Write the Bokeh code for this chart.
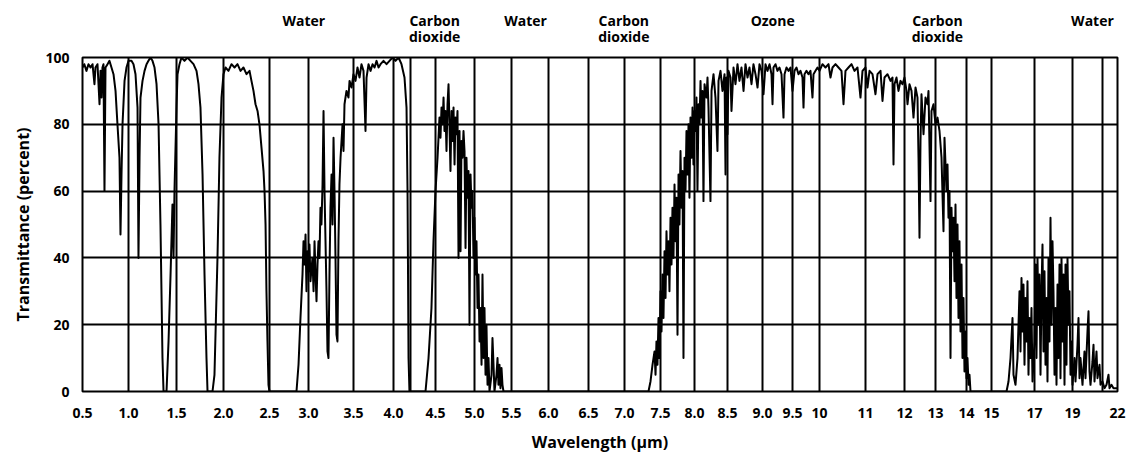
import numpy as np
from bokeh.plotting import figure
from bokeh.layouts import column
from bokeh.models import Range1d, FixedTicker, ColumnDataSource
from bokeh.core.properties import value
from bokeh.embed import file_html
from bokeh.resources import INLINE

# ---------------- data ----------------
tick_um = [0.5, 1.0, 1.5, 2.0, 2.5, 3.0, 3.5, 4.0, 4.5, 5.0, 5.5, 6.0, 6.5, 7.0,
           7.5, 8.0, 8.5, 9.0, 9.5, 10, 11, 12, 13, 14, 15, 17, 19, 22]
tick_labels = ["0.5", "1.0", "1.5", "2.0", "2.5", "3.0", "3.5", "4.0", "4.5", "5.0",
               "5.5", "6.0", "6.5", "7.0", "7.5", "8.0", "8.5", "9.0", "9.5", "10",
               "11", "12", "13", "14", "15", "17", "19", "22"]
extra_grid_um = [4.2, 21]
y_ticks = [0, 20, 40, 60, 80, 100]

band_names = ["Water", "Carbon\ndioxide", "Water", "Carbon\ndioxide", "Ozone",
              "Carbon\ndioxide", "Water"]
band_um = [2.94, 4.49, 5.69, 6.99, 9.17, 13.06, 20.33]

wavelength_um = [
    0.50, 0.52, 0.543, 0.565, 0.587, 0.609, 0.63, 0.641, 0.663, 0.685, 0.696, 0.707, 0.717,
    0.728, 0.739, 0.75, 0.772, 0.793, 0.815, 0.837, 0.859, 0.88, 0.902, 0.913, 0.924, 0.935,
    0.957, 0.978, 1.0, 1.031, 1.052, 1.073, 1.094, 1.104, 1.115, 1.125, 1.146, 1.167, 1.188,
    1.208, 1.229, 1.25, 1.271, 1.292, 1.313, 1.333, 1.354, 1.365, 1.396, 1.417, 1.438, 1.458,
    1.469, 1.479, 1.5, 1.511, 1.532, 1.553, 1.585, 1.617, 1.649, 1.681, 1.713, 1.734, 1.755,
    1.777, 1.798, 1.819, 1.83, 1.883, 1.904, 1.936, 1.957, 1.979, 2.0, 2.022, 2.054, 2.087,
    2.12, 2.152, 2.185, 2.217, 2.25, 2.283, 2.304, 2.326, 2.348, 2.37, 2.391, 2.413, 2.435,
    2.446, 2.457, 2.467, 2.478, 2.489, 2.5,
    2.846, 2.872, 2.897, 2.923, 2.936, 2.949, 2.962, 2.974, 2.987, 3.0, 3.011, 3.022, 3.044,
    3.056, 3.067, 3.078, 3.089, 3.1, 3.111, 3.122, 3.133, 3.144, 3.156, 3.167, 3.178, 3.189,
    3.2, 3.211, 3.222, 3.233, 3.244, 3.256, 3.267, 3.278, 3.289, 3.3, 3.311, 3.322, 3.333,
    3.344, 3.356, 3.378, 3.389, 3.4, 3.422, 3.444, 3.456, 3.478, 3.5, 3.525, 3.55, 3.575,
    3.6, 3.625, 3.65, 3.663, 3.688, 3.713, 3.738, 3.763, 3.788, 3.813, 3.838, 3.875, 3.913,
    3.95, 3.988, 4.024, 4.06, 4.095, 4.131, 4.155, 4.167, 4.179, 4.19,
    4.381, 4.417, 4.452, 4.476, 4.5, 4.526, 4.551, 4.564, 4.577, 4.59, 4.603, 4.615, 4.628,
    4.641, 4.654, 4.667, 4.679, 4.692, 4.705, 4.718, 4.731, 4.744, 4.756, 4.769, 4.782,
    4.795, 4.808, 4.821, 4.833, 4.846, 4.859, 4.872, 4.885, 4.897, 4.91, 4.923, 4.936, 4.949,
    4.962, 4.974, 4.987, 5.0, 5.014, 5.027, 5.041, 5.054, 5.068, 5.081, 5.095, 5.108, 5.122,
    5.135, 5.149, 5.162, 5.176, 5.189, 5.203, 5.23, 5.243, 5.257, 5.27, 5.297, 5.311, 5.324,
    5.338, 5.351, 5.365, 5.378, 5.392,
    7.333, 7.361, 7.389, 7.417, 7.431, 7.444, 7.458, 7.472, 7.486, 7.5, 7.515, 7.529, 7.544,
    7.559, 7.574, 7.588, 7.603, 7.618, 7.632, 7.647, 7.662, 7.676, 7.691, 7.706, 7.721,
    7.735, 7.75, 7.765, 7.779, 7.794, 7.809, 7.824, 7.838, 7.853, 7.868, 7.882, 7.897, 7.912,
    7.926, 7.941, 7.956, 7.971, 7.985, 8.0, 8.015, 8.03, 8.045, 8.061, 8.076, 8.091, 8.106,
    8.121, 8.136, 8.152, 8.182, 8.197, 8.212, 8.242, 8.258, 8.288, 8.318, 8.348, 8.364, 8.394,
    8.424, 8.455, 8.47, 8.485, 8.5, 8.514, 8.543, 8.557, 8.586, 8.614, 8.643, 8.671, 8.7,
    8.729, 8.757, 8.786, 8.814, 8.843, 8.871, 8.9, 8.929, 8.957, 8.986, 9.017, 9.05, 9.083,
    9.117, 9.15, 9.167, 9.183, 9.217, 9.25, 9.283, 9.317, 9.35, 9.367, 9.4, 9.433, 9.467,
    9.5, 9.537, 9.574, 9.611, 9.648, 9.685, 9.704, 9.722, 9.759, 9.796, 9.833, 9.87, 9.889,
    9.926, 9.963, 10.0, 10.065, 10.13, 10.196, 10.239, 10.283, 10.348, 10.413, 10.478,
    10.522, 10.565, 10.63, 10.696, 10.761, 10.826, 10.891, 10.935, 11.0, 11.051, 11.103,
    11.179, 11.256, 11.308, 11.385, 11.436, 11.487, 11.564, 11.641, 11.692, 11.718, 11.744,
    11.795, 11.846, 11.897, 11.949, 12.0, 12.065, 12.097, 12.161, 12.226, 12.29, 12.355,
    12.419, 12.452, 12.484, 12.516, 12.548, 12.613, 12.677, 12.742, 12.774, 12.839, 12.871,
    12.935, 13.0, 13.065, 13.129, 13.194, 13.258, 13.29, 13.355, 13.387, 13.419, 13.452,
    13.484, 13.516, 13.548, 13.581, 13.613, 13.645, 13.677, 13.71, 13.742, 13.774, 13.806,
    13.839, 13.871, 13.903, 13.935, 13.968, 14.0, 14.04, 14.08, 14.12, 14.16,
    15.698, 15.791, 15.884, 15.977, 16.023, 16.116, 16.209, 16.302, 16.349, 16.395, 16.442,
    16.488, 16.535, 16.581, 16.628, 16.674, 16.721, 16.767, 16.814, 16.86, 16.907, 17.0,
    17.053, 17.105, 17.158, 17.211, 17.263, 17.316, 17.368, 17.421, 17.474, 17.526, 17.579,
    17.632, 17.684, 17.737, 17.789, 17.842, 17.895, 17.947, 18.0, 18.053, 18.105, 18.158,
    18.211, 18.263, 18.316, 18.368, 18.421, 18.474, 18.526, 18.579, 18.632, 18.684, 18.737,
    18.789, 18.842, 18.895, 18.947, 19.0, 19.133, 19.2, 19.333, 19.4, 19.467, 19.533, 19.667,
    19.8, 19.867, 20.0, 20.067, 20.133, 20.2, 20.333, 20.4, 20.467, 20.6, 20.667, 20.8,
    20.867, 21.0, 21.133, 21.267, 21.4, 21.467, 21.6, 21.733, 22.0,
]

transmittance = [
    97, 98, 96, 98, 97, 98, 92, 97, 98, 86, 96, 88, 97,
    98, 60, 97, 98, 99, 97, 95, 90, 80, 70, 47, 65, 80,
    93, 97, 99, 99, 98, 95, 85, 40, 70, 88, 93, 96, 98,
    99, 100, 99, 97, 92, 80, 50, 10, 0, 0, 15, 35, 56,
    40, 60, 85, 95, 98, 100, 99, 100, 99, 98, 96, 92, 85,
    65, 35, 10, 0, 0, 5, 40, 70, 88, 95, 97, 96, 98,
    97, 98, 96, 97, 95, 96, 93, 90, 86, 84, 80, 73, 66,
    60, 50, 30, 15, 2, 0,
    0, 8, 22, 35, 45, 38, 47, 30, 42, 36, 44, 33, 40,
    30, 45, 35, 27, 38, 45, 40, 55, 50, 62, 84, 60, 45,
    30, 12, 10, 35, 55, 65, 50, 76, 60, 40, 17, 15, 45,
    62, 70, 80, 72, 86, 90, 88, 93, 91, 95, 93, 97, 94,
    98, 96, 78, 94, 98, 96, 98, 97, 99, 97, 98, 99, 98,
    99, 100, 99, 100, 98, 94, 85, 60, 10, 0,
    0, 10, 25, 45, 60, 70, 82, 76, 85, 80, 88, 78, 84,
    72, 86, 92, 80, 66, 84, 75, 85, 68, 82, 77, 84,
    40, 78, 42, 75, 70, 78, 72, 43, 70, 58, 66, 20, 65,
    55, 60, 40, 52, 35, 45, 25, 35, 15, 25, 8, 35, 10,
    25, 5, 20, 2, 10, 0, 5, 16, 8, 0, 5, 10, 2,
    8, 1, 7, 2, 0,
    0, 3, 8, 12, 5, 15, 8, 22, 10, 30, 18, 35, 22,
    42, 28, 48, 35, 45, 30, 52, 38, 55, 40, 62, 45,
    58, 17, 65, 50, 72, 55, 66, 10, 70, 60, 78, 65, 80,
    58, 82, 70, 85, 68, 84, 78, 88, 60, 86, 80, 93, 82,
    90, 57, 92, 88, 94, 85, 57, 90, 95, 88, 72, 93, 96,
    90, 95, 65, 94, 77, 96, 94, 84, 97, 92, 98, 93, 97,
    90, 98, 94, 97, 92, 98, 95, 91, 98, 96, 89, 98, 96,
    98, 95, 86, 97, 98, 96, 97, 95, 82, 95, 97, 96, 97,
    90, 96, 97, 95, 96, 94, 85, 95, 96, 95, 96, 88, 95,
    96, 97, 96, 98, 97, 98, 94, 97, 98, 97, 96,
    86, 96, 97, 98, 96, 97, 88, 96, 97, 91, 96,
    95, 89, 95, 96, 87, 94, 95, 93, 94, 68, 92,
    94, 90, 93, 92, 94, 90, 86, 92, 90, 82, 91,
    88, 70, 46, 75, 89, 77, 88, 86, 90, 57, 84,
    86, 80, 82, 78, 70, 48, 76, 60, 68, 52, 60,
    10, 55, 42, 52, 33, 56, 28, 50, 22, 45, 18,
    38, 10, 28, 6, 18, 4, 10, 2, 5, 0,
    0, 3, 10, 22, 5, 2, 10, 30, 12, 34, 18,
    32, 8, 28, 15, 33, 5, 22, 10, 25, 3, 15,
    38, 10, 40, 20, 35, 5, 30, 44, 12, 36, 8,
    28, 3, 40, 15, 52, 20, 45, 30, 5, 25, 2,
    32, 10, 38, 4, 40, 15, 35, 2, 38, 8, 40,
    20, 30, 5, 15, 2, 10, 3, 14, 22, 4, 10, 2,
    12, 4, 18, 24, 6, 2, 9, 14, 3, 12, 4, 8,
    2, 3, 1, 2, 5, 1, 2, 1, 1,
]

# ---------------- layout ----------------
# The printed wavelength axis is not uniform: offset (px) of each labelled tick
AXIS_SLOT = [0, 46, 94, 141, 187, 226, 271, 311, 353, 392, 429, 466, 506, 542,
             578, 612, 645, 680, 710, 737, 783, 822, 853, 884, 909, 952, 990, 1035]
FONT = "Open Sans"
W = 1131
HEAD_H = 47
MAIN_H = 409
BORDER_L, BORDER_R = 82, 14


def axis_pos(um):
    return np.interp(np.asarray(um, dtype=float), tick_um, AXIS_SLOT)


xr = Range1d(0, AXIS_SLOT[-1])

# ---- header strip with the absorber names ----
head = figure(width=W, height=HEAD_H, output_backend="svg", toolbar_location=None,
              x_range=xr, y_range=Range1d(0, HEAD_H),
              x_axis_location=None, y_axis_location=None,
              min_border_left=BORDER_L, min_border_right=BORDER_R,
              min_border_top=0, min_border_bottom=0)
head.grid.visible = False
head.outline_line_color = None
hx, hy, ht = [], [], []
for name, um in zip(band_names, band_um):
    for i, part in enumerate(name.split("\n")):
        hx.append(float(axis_pos(um)))
        hy.append(HEAD_H - 20 - 16 * i)
        ht.append(part)
head.text(x="x", y="y", text="t", source=ColumnDataSource(dict(x=hx, y=hy, t=ht)),
          text_align="center", text_baseline="middle", text_font=value(FONT),
          text_font_style="bold", text_font_size=value("14px"), text_color="black")

# ---- main chart ----
p = figure(width=W, height=MAIN_H, output_backend="svg", toolbar_location=None,
           x_range=xr, y_range=Range1d(0, 100),
           min_border_left=BORDER_L, min_border_right=BORDER_R, min_border_top=10,
           min_border_bottom=65, background_fill_color="white",
           border_fill_color="white")

src = ColumnDataSource(dict(x=axis_pos(wavelength_um), y=transmittance))
p.line("x", "y", source=src, line_color="black", line_width=2.0, line_join="round")

p.xgrid.ticker = FixedTicker(ticks=[float(v) for v in axis_pos(tick_um + extra_grid_um)])
p.ygrid.ticker = FixedTicker(ticks=y_ticks)
for g in (p.xgrid[0], p.ygrid[0]):
    g.grid_line_color = "black"
    g.grid_line_width = 2
    g.grid_line_alpha = 1.0

p.outline_line_color = "black"
p.outline_line_width = 2
p.outline_line_alpha = 1.0

xa = p.xaxis[0]
xa.ticker = FixedTicker(ticks=AXIS_SLOT)
xa.major_label_overrides = {s: lab for s, lab in zip(AXIS_SLOT, tick_labels)}
ya = p.yaxis[0]
ya.ticker = FixedTicker(ticks=y_ticks)
for ax in (xa, ya):
    ax.axis_line_color = None
    ax.major_tick_line_color = None
    ax.minor_tick_line_color = None
    ax.major_label_text_font = FONT
    ax.major_label_text_font_style = "bold"
    ax.major_label_text_font_size = "14px"
    ax.major_label_text_color = "black"
    ax.axis_label_text_font = FONT
    ax.axis_label_text_font_style = "bold"
    ax.axis_label_text_font_size = "16px"
    ax.axis_label_text_color = "black"
xa.axis_label = "Wavelength (µm)"
ya.axis_label = "Transmittance (percent)"
xa.major_label_standoff = 10
xa.axis_label_standoff = 10
ya.major_label_standoff = 7
ya.axis_label_standoff = 8

layout = column(head, p, spacing=0)
open("out.html", "w").write(file_html(layout, INLINE))
